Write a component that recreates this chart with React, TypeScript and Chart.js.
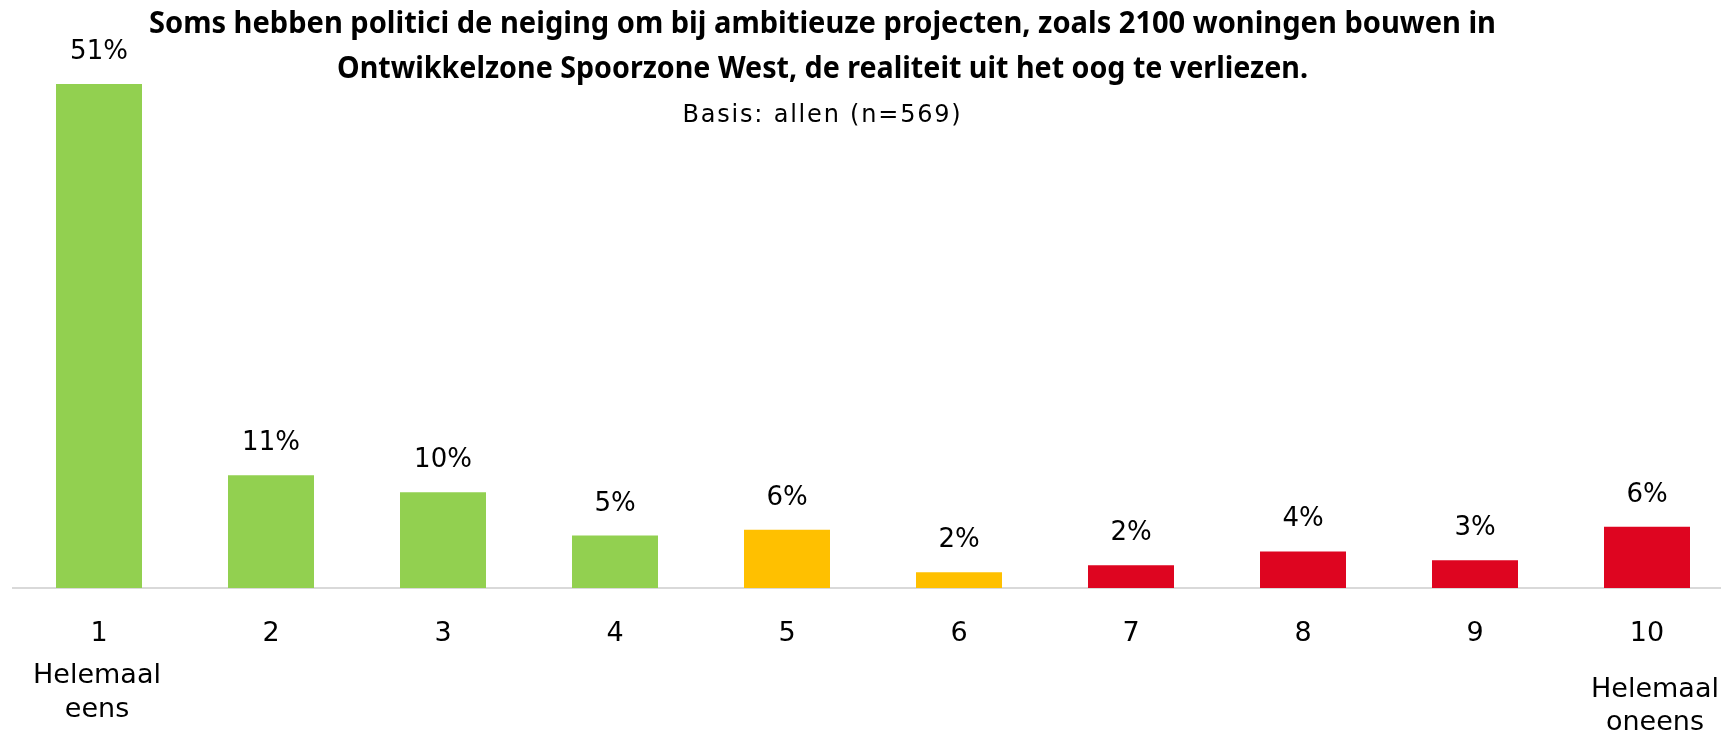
import React, { useEffect, useRef } from "react";
import { Chart, registerables } from "chart.js";

Chart.register(...registerables);

const categories = ["1", "2", "3", "4", "5", "6", "7", "8", "9", "10"];
const values = [51.0, 11.4, 9.7, 5.3, 5.9, 1.6, 2.3, 3.7, 2.8, 6.2];
const valueLabels = ["51%", "11%", "10%", "5%", "6%", "2%", "2%", "4%", "3%", "6%"];
const barColors = [
  "#92D050", "#92D050", "#92D050", "#92D050",
  "#FFC000", "#FFC000",
  "#DE0520", "#DE0520", "#DE0520", "#DE0520",
];
const titleLines = [
  "Soms hebben politici de neiging om bij ambitieuze projecten, zoals 2100 woningen bouwen in",
  "Ontwikkelzone Spoorzone West, de realiteit uit het oog te verliezen.",
];
const subtitle = "Basis: allen (n=569)";
const firstEndLabel = ["Helemaal", "eens"];
const lastEndLabel = ["Helemaal", "oneens"];

const W = 1721;
const H = 734;
// the plot runs a little past the right edge of the picture (cropped original)
const CANVAS_W = 1733;

function drawFitted(ctx: CanvasRenderingContext2D, text: string, cx: number, y: number, font: string, targetW: number) {
  ctx.save();
  ctx.font = font;
  ctx.textAlign = "left";
  ctx.textBaseline = "alphabetic";
  const w = ctx.measureText(text).width;
  const s = targetW / w;
  ctx.translate(cx - targetW / 2, y);
  ctx.scale(s, 1);
  ctx.fillText(text, 0, 0);
  ctx.restore();
}

const overlayPlugin = {
  id: "overlay",
  afterDatasetsDraw(chart: any) {
    const ctx: CanvasRenderingContext2D = chart.ctx;
    const meta = chart.getDatasetMeta(0);
    ctx.save();
    ctx.fillStyle = "#000";
    ctx.font = '26px "DejaVu Sans"';
    ctx.textAlign = "center";
    ctx.textBaseline = "alphabetic";
    meta.data.forEach((bar: any, i: number) => {
      ctx.fillText(valueLabels[i], bar.x, bar.y - 25);
    });
    ctx.restore();
  },
  afterDraw(chart: any) {
    const ctx: CanvasRenderingContext2D = chart.ctx;
    const xs = chart.scales.x;
    const base = chart.chartArea.bottom;
    ctx.save();
    ctx.fillStyle = "#000";
    const cx = 822.5;
    drawFitted(ctx, titleLines[0], cx, 33, 'bold 30px "Noto Sans"', 1347);
    drawFitted(ctx, titleLines[1], cx, 78, 'bold 30px "Noto Sans"', 971);
    ctx.font = '24px "DejaVu Sans"';
    (ctx as any).letterSpacing = "1.8px";
    ctx.textAlign = "center";
    ctx.textBaseline = "alphabetic";
    ctx.fillText(subtitle, cx, 122);
    (ctx as any).letterSpacing = "0px";

    ctx.font = '27px "DejaVu Sans"';
    const x0 = xs.getPixelForValue(0);
    ctx.fillText(firstEndLabel[0], x0 - 2, base + 95);
    ctx.fillText(firstEndLabel[1], x0 - 2, base + 129);
    const x9 = xs.getPixelForValue(categories.length - 1);
    ctx.fillText(lastEndLabel[0], x9 + 8, base + 109);
    ctx.fillText(lastEndLabel[1], x9 + 8, base + 142);
    ctx.restore();
  },
};

export default function App() {
  const ref = useRef<HTMLCanvasElement | null>(null);
  useEffect(() => {
    if (!ref.current) return;
    const chart = new Chart(ref.current, {
      type: "bar",
      data: {
        labels: categories,
        datasets: [
          {
            data: values,
            backgroundColor: barColors,
            borderWidth: 0,
            categoryPercentage: 1,
            barPercentage: 0.5,
          },
        ],
      },
      options: {
        responsive: false,
        animation: false,
        layout: { padding: { left: 13, right: 0, top: 0, bottom: 0 } },
        plugins: {
          legend: { display: false },
          title: { display: false },
          tooltip: { enabled: false },
        },
        scales: {
          y: { display: false, min: 0, max: 59.5 },
          x: {
            grid: { display: false, drawTicks: false },
            border: { display: true, color: "#D9D9D9", width: 2 },
            ticks: {
              color: "#000",
              font: { family: "DejaVu Sans", size: 27 },
              padding: 30,
              maxRotation: 0,
              autoSkip: false,
            },
            afterFit: (s: any) => {
              s.height = 146;
            },
          },
        },
      },
      plugins: [overlayPlugin],
    });
    return () => chart.destroy();
  }, []);
  return (
    <div style={{ position: "absolute", left: 0, top: 0, width: W, height: H, overflow: "hidden", background: "#fff" }}>
      <canvas ref={ref} width={CANVAS_W} height={H} style={{ display: "block", width: CANVAS_W, height: H }} />
    </div>
  );
}
